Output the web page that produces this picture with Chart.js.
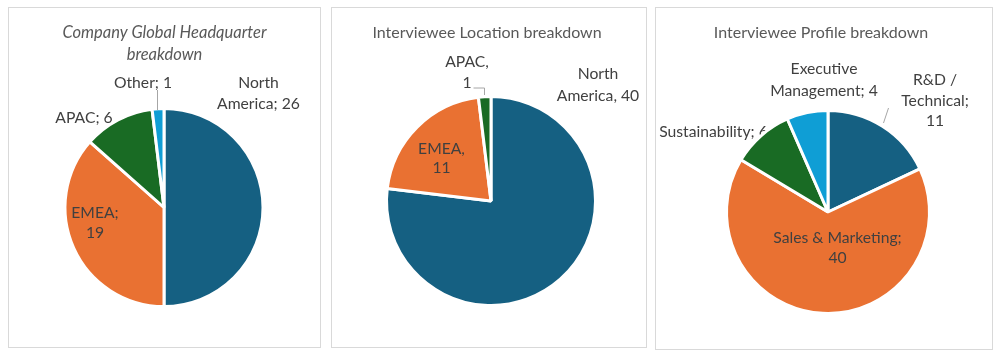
<!DOCTYPE html>
<html>
<head>
<meta charset="utf-8">
<script src="https://cdn.jsdelivr.net/npm/chart.js@4/dist/chart.umd.min.js"></script>
<style>
  html, body { margin: 0; padding: 0; background: #ffffff; width: 1000px; height: 358px; overflow: hidden; }
  .panel { position: absolute; box-sizing: border-box; border: 1px solid #d9d9d9; background: #fff; }
  canvas { position: absolute; }
</style>
</head>
<body>
<script>
// ---------- DATA ----------
const hqCategories = ['North America', 'EMEA', 'APAC', 'Other'];
const hqValues = [26, 19, 6, 1];

const locCategories = ['North America', 'EMEA', 'APAC'];
const locValues = [40, 11, 1];

const profileCategories = ['R&D / Technical', 'Sales & Marketing', 'Sustainability', 'Executive Management'];
const profileValues = [11, 40, 6, 4];

const chartTitles = [['Company Global Headquarter', 'breakdown'], ['Interviewee Location breakdown'], ['Interviewee Profile breakdown']];

// ---------- STYLE / LAYOUT ----------
const COLORS = ['#156082', '#E97132', '#196B24', '#0F9ED5'];
const FONT = 'Lato, "Open Sans", sans-serif';
const LABEL_COLOR = '#404040';
const TITLE_COLOR = '#595959';
const LEADER_COLOR = '#a6a6a6';
const BORDER_W = 3;

const PANELS = [
  {
    left: 8, top: 7, w: 313, h: 341, cx: 164, cy: 207.5, r: 97.5,
    categories: hqCategories, values: hqValues, sep: ';', colorIdx: [0, 1, 2, 3],
    title: { lines: chartTitles[0], x: 164.5, y: 33, lh: 22, italic: true },
    labels: [
      { breaks: [1, 2], dx: 94.5, dy: -124.5, lh: 21 },
      { breaks: [1, 1], dx: -69, dy: 5.5, lh: 20 },
      { breaks: [2], dx: -80, dy: -89.5, lh: 21 },
      { breaks: [2], dx: -21, dy: -124.5, lh: 21 }
    ],
    leaders: [[[-7, -117.5], [-7, -97.5]]]
  },
  {
    left: 331, top: 7, w: 316, h: 341, cx: 491, cy: 201, r: 103,
    categories: locCategories, values: locValues, sep: ',', colorIdx: [0, 1, 2],
    title: { lines: chartTitles[1], x: 487, y: 33, lh: 22, italic: false },
    labels: [
      { breaks: [1, 2], dx: 107, dy: -127, lh: 22 },
      { breaks: [1, 1], dx: -49.5, dy: -52, lh: 19 },
      { breaks: [1, 1], dx: -24, dy: -139, lh: 21 }
    ],
    leaders: [[[-18, -113], [-7, -113], [-7, -106]]]
  },
  {
    left: 655, top: 7, w: 338, h: 343, cx: 828, cy: 212, r: 100,
    categories: profileCategories, values: profileValues, sep: ';', colorIdx: [0, 1, 2, 3],
    title: { lines: chartTitles[2], x: 821, y: 33, lh: 22, italic: false },
    labels: [
      { breaks: [2, 1, 1], dx: 107, dy: -132, lh: 20.5 },
      { breaks: [3, 1], dx: 9.5, dy: 26, lh: 20 },
      { breaks: [2], dx: -114.5, dy: -80, lh: 21, behind: true },
      { breaks: [1, 2], dx: -4, dy: -143, lh: 22 }
    ],
    leaders: [[[60, -104], [55, -89]]]
  }
];

const LABEL_SIZE = 15.7;
const TITLE_SIZE = 16;
const TITLE_ITALIC_SIZE = 16.5;

function labelLines(cat, val, sep, breaks) {
  const words = (cat + sep + ' ' + val).split(' ');
  const out = [];
  let i = 0;
  for (const n of breaks) { out.push(words.slice(i, i + n).join(' ')); i += n; }
  return out;
}

function drawLabels(chart, behind) {
  const cfg = chart.options.plugins.pieDecor;
  const ctx = chart.ctx;
  const meta = chart.getDatasetMeta(0);
  const arc0 = meta.data[0];
  const cx = arc0.x, cy = arc0.y;
  ctx.save();
  ctx.fillStyle = LABEL_COLOR;
  ctx.font = LABEL_SIZE + 'px ' + FONT;
  ctx.textAlign = 'center';
  ctx.textBaseline = 'middle';
  cfg.labels.forEach((lb, i) => {
    if (!!lb.behind !== behind) return;
    const lines = labelLines(cfg.categories[i], cfg.values[i], cfg.sep, lb.breaks);
    lines.forEach((t, k) => ctx.fillText(t, cx + lb.dx, cy + lb.dy + k * lb.lh));
  });
  ctx.restore();
}

const pieDecor = {
  id: 'pieDecor',
  beforeDatasetsDraw(chart) {
    drawLabels(chart, true);
  },
  afterDatasetsDraw(chart) {
    const cfg = chart.options.plugins.pieDecor;
    const ctx = chart.ctx;
    const arc0 = chart.getDatasetMeta(0).data[0];
    const cx = arc0.x, cy = arc0.y;
    // leader lines
    ctx.save();
    ctx.strokeStyle = LEADER_COLOR;
    ctx.lineWidth = 1;
    cfg.leaders.forEach(pts => {
      ctx.beginPath();
      pts.forEach((p, k) => {
        const x = Math.round(cx + p[0]) + 0.5, y = cy + p[1];
        if (k === 0) ctx.moveTo(x, y); else ctx.lineTo(x, y);
      });
      ctx.stroke();
    });
    ctx.restore();
    drawLabels(chart, false);
    // title
    const t = cfg.title;
    ctx.save();
    ctx.fillStyle = TITLE_COLOR;
    ctx.font = t.italic ? ('italic ' + TITLE_ITALIC_SIZE + 'px ' + FONT) : (TITLE_SIZE + 'px ' + FONT);
    ctx.textAlign = 'center';
    ctx.textBaseline = 'middle';
    t.lines.forEach((line, k) => ctx.fillText(line, t.x - cfg.left, t.y - cfg.top + k * t.lh));
    ctx.restore();
  }
};

PANELS.forEach(p => {
  const div = document.createElement('div');
  div.className = 'panel';
  Object.assign(div.style, { left: p.left + 'px', top: p.top + 'px', width: p.w + 'px', height: p.h + 'px' });
  document.body.appendChild(div);

  const canvas = document.createElement('canvas');
  canvas.width = p.w; canvas.height = p.h;
  Object.assign(canvas.style, { left: p.left + 'px', top: p.top + 'px', width: p.w + 'px', height: p.h + 'px' });
  document.body.appendChild(canvas);

  const cx = p.cx - p.left, cy = p.cy - p.top;
  new Chart(canvas, {
    type: 'pie',
    data: {
      labels: p.categories,
      datasets: [{
        data: p.values,
        backgroundColor: p.colorIdx.map(i => COLORS[i]),
        borderColor: '#ffffff',
        borderWidth: BORDER_W
      }]
    },
    options: {
      responsive: false,
      animation: false,
      devicePixelRatio: 1,
      radius: p.r + BORDER_W / 2,
      rotation: 0,
      layout: {
        padding: { left: cx - p.r, right: p.w - cx - p.r, top: cy - p.r, bottom: p.h - cy - p.r }
      },
      events: [],
      plugins: {
        legend: { display: false },
        tooltip: { enabled: false },
        title: { display: false },
        pieDecor: {
          categories: p.categories, values: p.values, sep: p.sep,
          labels: p.labels, leaders: p.leaders, title: p.title,
          left: p.left, top: p.top
        }
      }
    },
    plugins: [pieDecor]
  });
});
</script>
</body>
</html>
